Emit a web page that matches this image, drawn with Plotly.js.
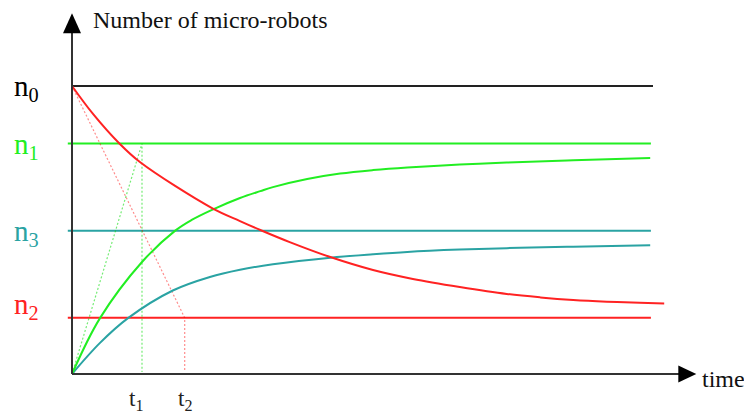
<!DOCTYPE html>
<html><head><meta charset="utf-8">
<script src="https://cdn.plot.ly/plotly-3.0.1.min.js"></script>
<style>html,body{margin:0;padding:0;background:#fff}#chart{width:744px;height:414px}</style>
</head><body><div id="chart"></div>
<script>
// ---- data (arbitrary units: time t1 = 1, population n0 = 1) ----
const levelLabels = ['n<sub>0</sub>', 'n<sub>1</sub>', 'n<sub>3</sub>', 'n<sub>2</sub>'];
const levelValues = [1.0, 0.8, 0.497, 0.195];
const tickLabels = ['t<sub>1</sub>', 't<sub>2</sub>'];
const tickTimes = [1.0, 1.61];

const greenT = [0, 0.4, 1.0, 1.47, 1.71, 2.0, 2.4, 2.69, 2.87, 3.36, 3.83, 4.3, 4.79, 5.54, 6.21, 7.16, 8.26];
const greenN = [0, 0.194, 0.389, 0.497, 0.535, 0.570, 0.611, 0.635, 0.649, 0.677, 0.696, 0.708, 0.717, 0.727, 0.734, 0.742, 0.75];

const tealT = [0, 0.4, 0.8, 1.44, 1.97, 2.4, 2.87, 3.69, 4.3, 4.79, 5.54, 6.21, 7.16, 8.26];
const tealN = [0, 0.108, 0.194, 0.29, 0.337, 0.362, 0.381, 0.404, 0.416, 0.424, 0.432, 0.437, 0.442, 0.447];

const redT = [0, 0.3, 0.67, 0.97, 2.0, 2.4, 2.69, 3.11, 3.69, 4.3, 4.87, 5.54, 6.21, 6.69, 7.16, 7.64, 8.11, 8.46];
const redN = [1.0, 0.903, 0.802, 0.736, 0.576, 0.531, 0.5, 0.458, 0.406, 0.361, 0.33, 0.302, 0.278, 0.266, 0.257, 0.251, 0.247, 0.245];

// ---- styles / layout constants ----
const FONT = 'Liberation Serif';
const levelColors = ['#222222', '#22ee22', '#2aa3a3', '#ff2222'];
const levelStart = [0, -0.06, -0.06, -0.06];
const levelEnd = [8.3, 8.27, 8.27, 8.27];
const xAxisEnd = 8.69, yAxisEnd = 1.187;
const xRange = [-1.02857, 9.6], yRange = [-0.13889, 1.29861];

const traces = [];
levelValues.forEach((v, i) => {
  traces.push({x: [levelStart[i], levelEnd[i]], y: [v, v], mode: 'lines',
    line: {color: levelColors[i], width: 2}, hoverinfo: 'skip'});
});
traces.push({x: [0, tickTimes[0], tickTimes[0]], y: [0, levelValues[1], 0.007], mode: 'lines',
  line: {color: 'rgba(0,220,0,0.55)', width: 1.2, dash: '2px,2px'}, hoverinfo: 'skip'});
traces.push({x: [0, tickTimes[1], tickTimes[1]], y: [levelValues[0], levelValues[3], 0.007], mode: 'lines',
  line: {color: 'rgba(255,0,0,0.45)', width: 1.2, dash: '2px,2px'}, hoverinfo: 'skip'});
traces.push({x: tealT, y: tealN, mode: 'lines', line: {color: levelColors[2], width: 2, shape: 'spline', smoothing: 1}});
traces.push({x: greenT, y: greenN, mode: 'lines', line: {color: levelColors[1], width: 2, shape: 'spline', smoothing: 1}});
traces.push({x: redT, y: redN, mode: 'lines', line: {color: levelColors[3], width: 2, shape: 'spline', smoothing: 1}});

const shapes = [
  {type: 'line', x0: 0, x1: 0, y0: 0, y1: yAxisEnd, line: {color: '#333', width: 2}},
  {type: 'line', x0: 0, x1: xAxisEnd, y0: 0, y1: 0, line: {color: '#333', width: 2}},
  {type: 'path', xsizemode: 'pixel', ysizemode: 'pixel', xanchor: 0, yanchor: yAxisEnd,
    path: 'M -9 -1 L 9 -1 L 0 19 Z', fillcolor: '#000', line: {width: 0}},
  {type: 'path', xsizemode: 'pixel', ysizemode: 'pixel', xanchor: xAxisEnd, yanchor: 0,
    path: 'M -2 -8.5 L -2 8.5 L 16 0 Z', fillcolor: '#000', line: {width: 0}}
];

const annotations = [];
levelValues.forEach((v, i) => {
  annotations.push({x: -0.857, y: v, xref: 'x', yref: 'y', xanchor: 'left', yanchor: 'middle',
    yshift: i === 3 ? 12 : -2, showarrow: false, text: levelLabels[i],
    font: {family: FONT, size: 29, color: i === 0 ? '#000' : levelColors[i]}});
});
tickTimes.forEach((t, i) => {
  annotations.push({x: t, y: 0, xref: 'x', yref: 'y', xanchor: 'center', yanchor: 'top',
    xshift: i === 0 ? -6 : 0, yshift: -10, showarrow: false, text: tickLabels[i],
    font: {family: FONT, size: 23, color: '#222'}});
});
annotations.push({x: 0.271, y: 1.229, xref: 'x', yref: 'y', xanchor: 'left', yanchor: 'middle',
  showarrow: false, text: 'Number of micro-robots', font: {family: FONT, size: 24, color: '#111'}});
annotations.push({x: 8.97, y: -0.021, xref: 'x', yref: 'y', xanchor: 'left', yanchor: 'middle',
  yshift: 1, showarrow: false, text: 'time', font: {family: FONT, size: 24, color: '#111'}});

const layout = {
  width: 744, height: 414, margin: {l: 0, r: 0, t: 0, b: 0},
  paper_bgcolor: '#fff', plot_bgcolor: '#fff', showlegend: false,
  xaxis: {range: xRange, visible: false, fixedrange: true},
  yaxis: {range: yRange, visible: false, fixedrange: true},
  shapes: shapes, annotations: annotations
};
Plotly.newPlot('chart', traces, layout, {displayModeBar: false, staticPlot: true});
</script></body></html>
